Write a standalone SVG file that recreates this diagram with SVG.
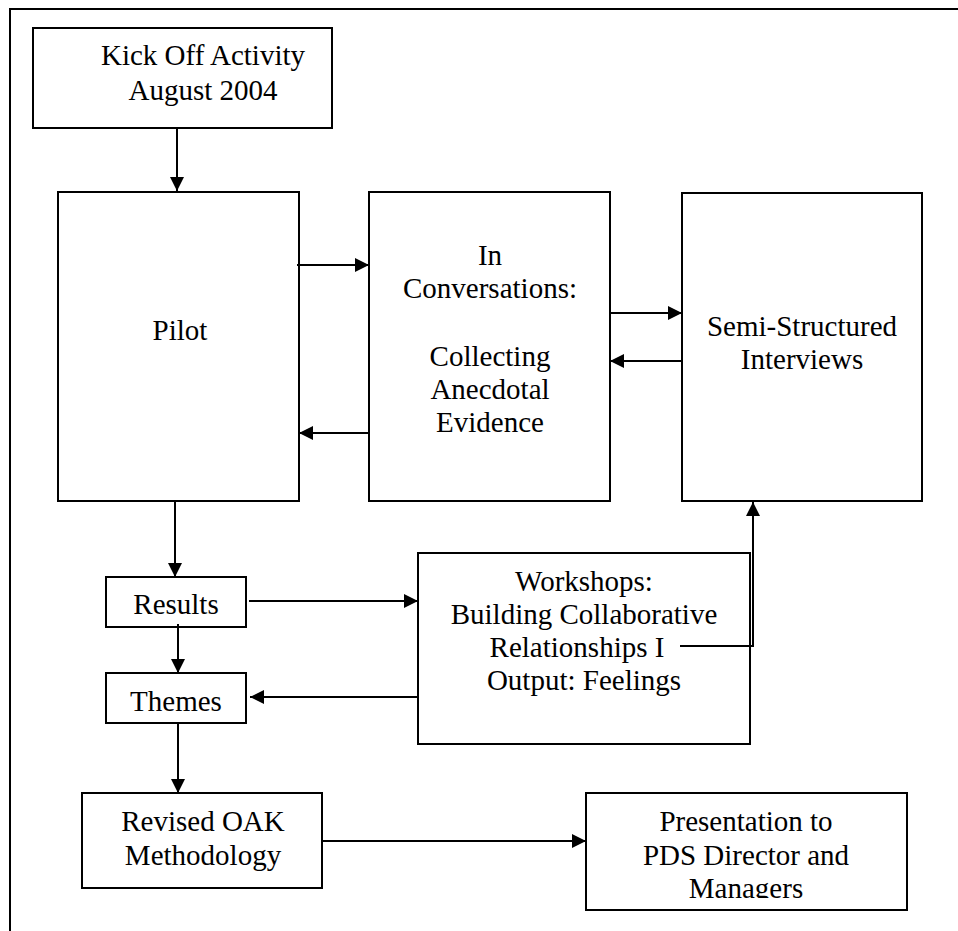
<svg xmlns="http://www.w3.org/2000/svg" width="958" height="931" viewBox="0 0 958 931">
  <style>
    .box { fill: #fff; stroke: #000; stroke-width: 2; }
    .frame { fill: none; stroke: #000; stroke-width: 2; }
    .lbl { font-family: "Liberation Serif", "Times New Roman", serif; font-size: 29px; fill: #000; text-anchor: middle; }
    .conn { fill: none; stroke: #000; stroke-width: 2; }
  </style>
  <defs>
    <marker id="arrow" viewBox="0 0 14 14" refX="14" refY="7" markerWidth="14" markerHeight="14" markerUnits="userSpaceOnUse" orient="auto">
      <path d="M0,0 L14,7 L0,14 Z" fill="#000"/>
    </marker>
    <clipPath id="presClip">
      <rect x="587" y="794" width="319" height="104"/>
    </clipPath>
  </defs>
  <rect width="958" height="931" fill="#fff"/>

  <!-- page frame -->
  <rect class="frame" x="10" y="9" width="970" height="950"/>

  <g id="kickoff">
    <rect class="box" x="33" y="28" width="299" height="100"/>
    <text class="lbl" x="203" y="65">Kick Off Activity</text>
    <text class="lbl" x="203" y="100">August 2004</text>
  </g>

  <g id="pilot">
    <rect class="box" x="58" y="192" width="241" height="309"/>
    <text class="lbl" x="180" y="340">Pilot</text>
  </g>

  <g id="conversations">
    <rect class="box" x="369" y="192" width="241" height="309"/>
    <text class="lbl" x="490" y="265">In</text>
    <text class="lbl" x="490" y="298">Conversations:</text>
    <text class="lbl" x="490" y="366">Collecting</text>
    <text class="lbl" x="490" y="399">Anecdotal</text>
    <text class="lbl" x="490" y="432">Evidence</text>
  </g>

  <g id="interviews">
    <rect class="box" x="682" y="193" width="240" height="308"/>
    <text class="lbl" x="802" y="336">Semi-Structured</text>
    <text class="lbl" x="802" y="369">Interviews</text>
  </g>

  <g id="results">
    <rect class="box" x="106" y="577" width="140" height="50"/>
    <text class="lbl" x="176" y="614">Results</text>
  </g>

  <g id="themes">
    <rect class="box" x="106" y="673" width="140" height="50"/>
    <text class="lbl" x="176" y="711">Themes</text>
  </g>

  <g id="workshops">
    <rect class="box" x="418" y="553" width="332" height="191"/>
    <text class="lbl" x="584" y="591">Workshops:</text>
    <text class="lbl" x="584" y="624">Building Collaborative</text>
    <text class="lbl" x="577" y="657">Relationships I</text>
    <text class="lbl" x="584" y="690">Output: Feelings</text>
  </g>

  <g id="revised">
    <rect class="box" x="82" y="793" width="240" height="95"/>
    <text class="lbl" x="203" y="831">Revised OAK</text>
    <text class="lbl" x="203" y="865">Methodology</text>
  </g>

  <g id="presentation">
    <rect class="box" x="586" y="793" width="321" height="117"/>
    <g clip-path="url(#presClip)">
      <text class="lbl" x="746" y="831">Presentation to</text>
      <text class="lbl" x="746" y="865">PDS Director and</text>
      <text class="lbl" x="746" y="898">Managers</text>
    </g>
  </g>

  <g id="connectors">
    <line class="conn" x1="177" y1="129" x2="177" y2="191" marker-end="url(#arrow)"/>
    <line class="conn" x1="297" y1="265" x2="369" y2="265" marker-end="url(#arrow)"/>
    <line class="conn" x1="610" y1="313" x2="682" y2="313" marker-end="url(#arrow)"/>
    <line class="conn" x1="682" y1="361" x2="610" y2="361" marker-end="url(#arrow)"/>
    <line class="conn" x1="369" y1="433" x2="299" y2="433" marker-end="url(#arrow)"/>
    <line class="conn" x1="175" y1="501" x2="175" y2="577" marker-end="url(#arrow)"/>
    <line class="conn" x1="178" y1="624" x2="178" y2="673" marker-end="url(#arrow)"/>
    <line class="conn" x1="249" y1="601" x2="418" y2="601" marker-end="url(#arrow)"/>
    <line class="conn" x1="418" y1="697" x2="250" y2="697" marker-end="url(#arrow)"/>
    <polyline class="conn" points="680,646 753,646 753,502" marker-end="url(#arrow)"/>
    <line class="conn" x1="178" y1="723" x2="178" y2="793" marker-end="url(#arrow)"/>
    <line class="conn" x1="322" y1="841" x2="586" y2="841" marker-end="url(#arrow)"/>
  </g>
</svg>
